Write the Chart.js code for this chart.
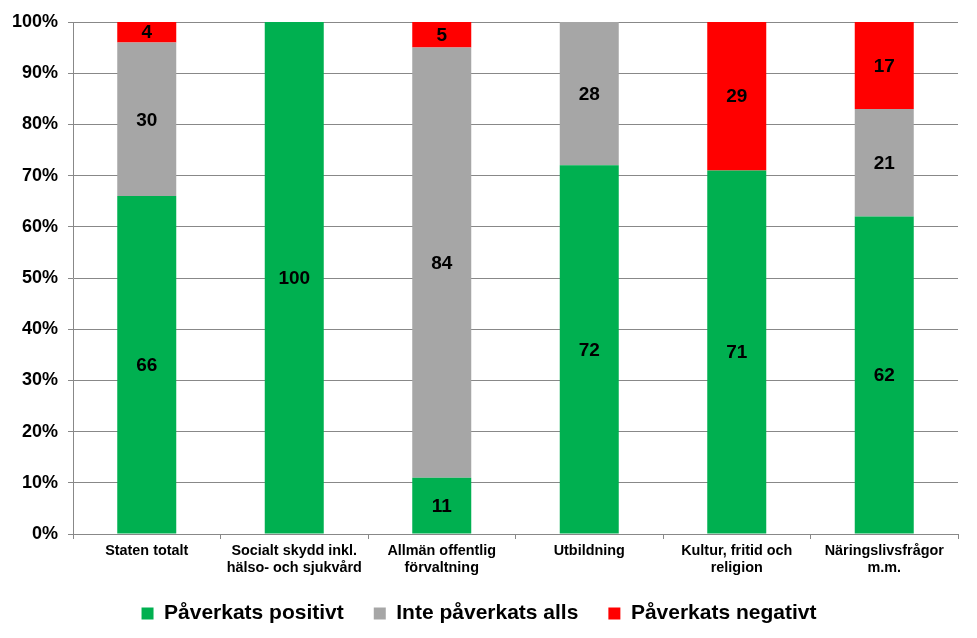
<!DOCTYPE html>
<html>
<head>
<meta charset="utf-8">
<script src="https://cdn.jsdelivr.net/npm/chart.js@4"></script>
<style>
  html, body { margin: 0; padding: 0; background: #fff; }
  #wrap { width: 977px; height: 638px; }
</style>
</head>
<body>
<div id="wrap"><canvas id="myChart"></canvas></div>
<script>
const categories = [
  "Staten totalt",
  ["Socialt skydd inkl.", "hälso- och sjukvård"],
  ["Allmän offentlig", "förvaltning"],
  "Utbildning",
  ["Kultur, fritid och", "religion"],
  ["Näringslivsfrågor", "m.m."]
];
const positive = [66, 100, 11, 72, 71, 62];
const notAffected = [30, 0, 84, 28, 0, 21];
const negative = [4, 0, 5, 0, 29, 17];
const yTicks = [0, 10, 20, 30, 40, 50, 60, 70, 80, 90, 100];

const FONT = "'Liberation Sans', Arial, sans-serif";

// Draw the value in the middle of each bar segment
const barValueLabels = {
  id: "barValueLabels",
  afterLayout(chart) {
    // pull the legend a bit closer to the axis labels
    chart.legend.top -= 8;
    chart.legend.bottom -= 8;
  },
  afterDatasetsDraw(chart) {
    const ctx = chart.ctx;
    ctx.save();
    ctx.font = "bold 19px " + FONT;
    ctx.fillStyle = "#000";
    ctx.textAlign = "center";
    ctx.textBaseline = "middle";
    chart.data.datasets.forEach((ds, i) => {
      const meta = chart.getDatasetMeta(i);
      meta.data.forEach((bar, j) => {
        const v = ds.data[j];
        if (!v) return;
        ctx.fillText(String(v), bar.x, (bar.y + bar.base) / 2 + 1);
      });
    });
    ctx.restore();
  }
};

const ctx = document.getElementById("myChart").getContext("2d");
const myChart = new Chart(ctx, {
  type: "bar",
  data: {
    labels: categories,
    datasets: [
      { label: "Påverkats positivt", data: positive, backgroundColor: "#00B050" },
      { label: "Inte påverkats alls", data: notAffected, backgroundColor: "#A6A6A6" },
      { label: "Påverkats negativt", data: negative, backgroundColor: "#FF0000" }
    ]
  },
  options: {
    responsive: true,
    maintainAspectRatio: false,
    animation: false,
    categoryPercentage: 1,
    barPercentage: 0.4,
    layout: { padding: { top: 22, right: 19, left: 0, bottom: 4 } },
    plugins: {
      tooltip: { enabled: false },
      legend: {
        position: "bottom",
        maxHeight: 53,
        labels: {
          color: "#000",
          font: { family: FONT, size: 21, weight: "bold" },
          boxWidth: 12,
          boxHeight: 12,
          padding: 30
        }
      }
    },
    scales: {
      x: {
        stacked: true,
        grid: { offset: true, drawOnChartArea: false, drawTicks: true, tickLength: 5, color: "#888" },
        border: { color: "#888" },
        ticks: {
          color: "#000",
          maxRotation: 0,
          padding: 3,
          font: { family: FONT, size: 14.4, weight: "bold" }
        },
        afterFit(scale) { scale.height = 47; }
      },
      y: {
        stacked: true,
        min: 0,
        max: 100,
        afterBuildTicks(scale) { scale.ticks = yTicks.map(v => ({ value: v })); },
        grid: { color: "#888", tickLength: 5 },
        border: { color: "#888" },
        ticks: {
          color: "#000",
          padding: 10,
          font: { family: FONT, size: 18, weight: "bold" },
          callback: v => v + "%"
        },
        afterFit(scale) { scale.width = 73; }
      }
    }
  },
  plugins: [barValueLabels]
});
</script>
</body>
</html>
